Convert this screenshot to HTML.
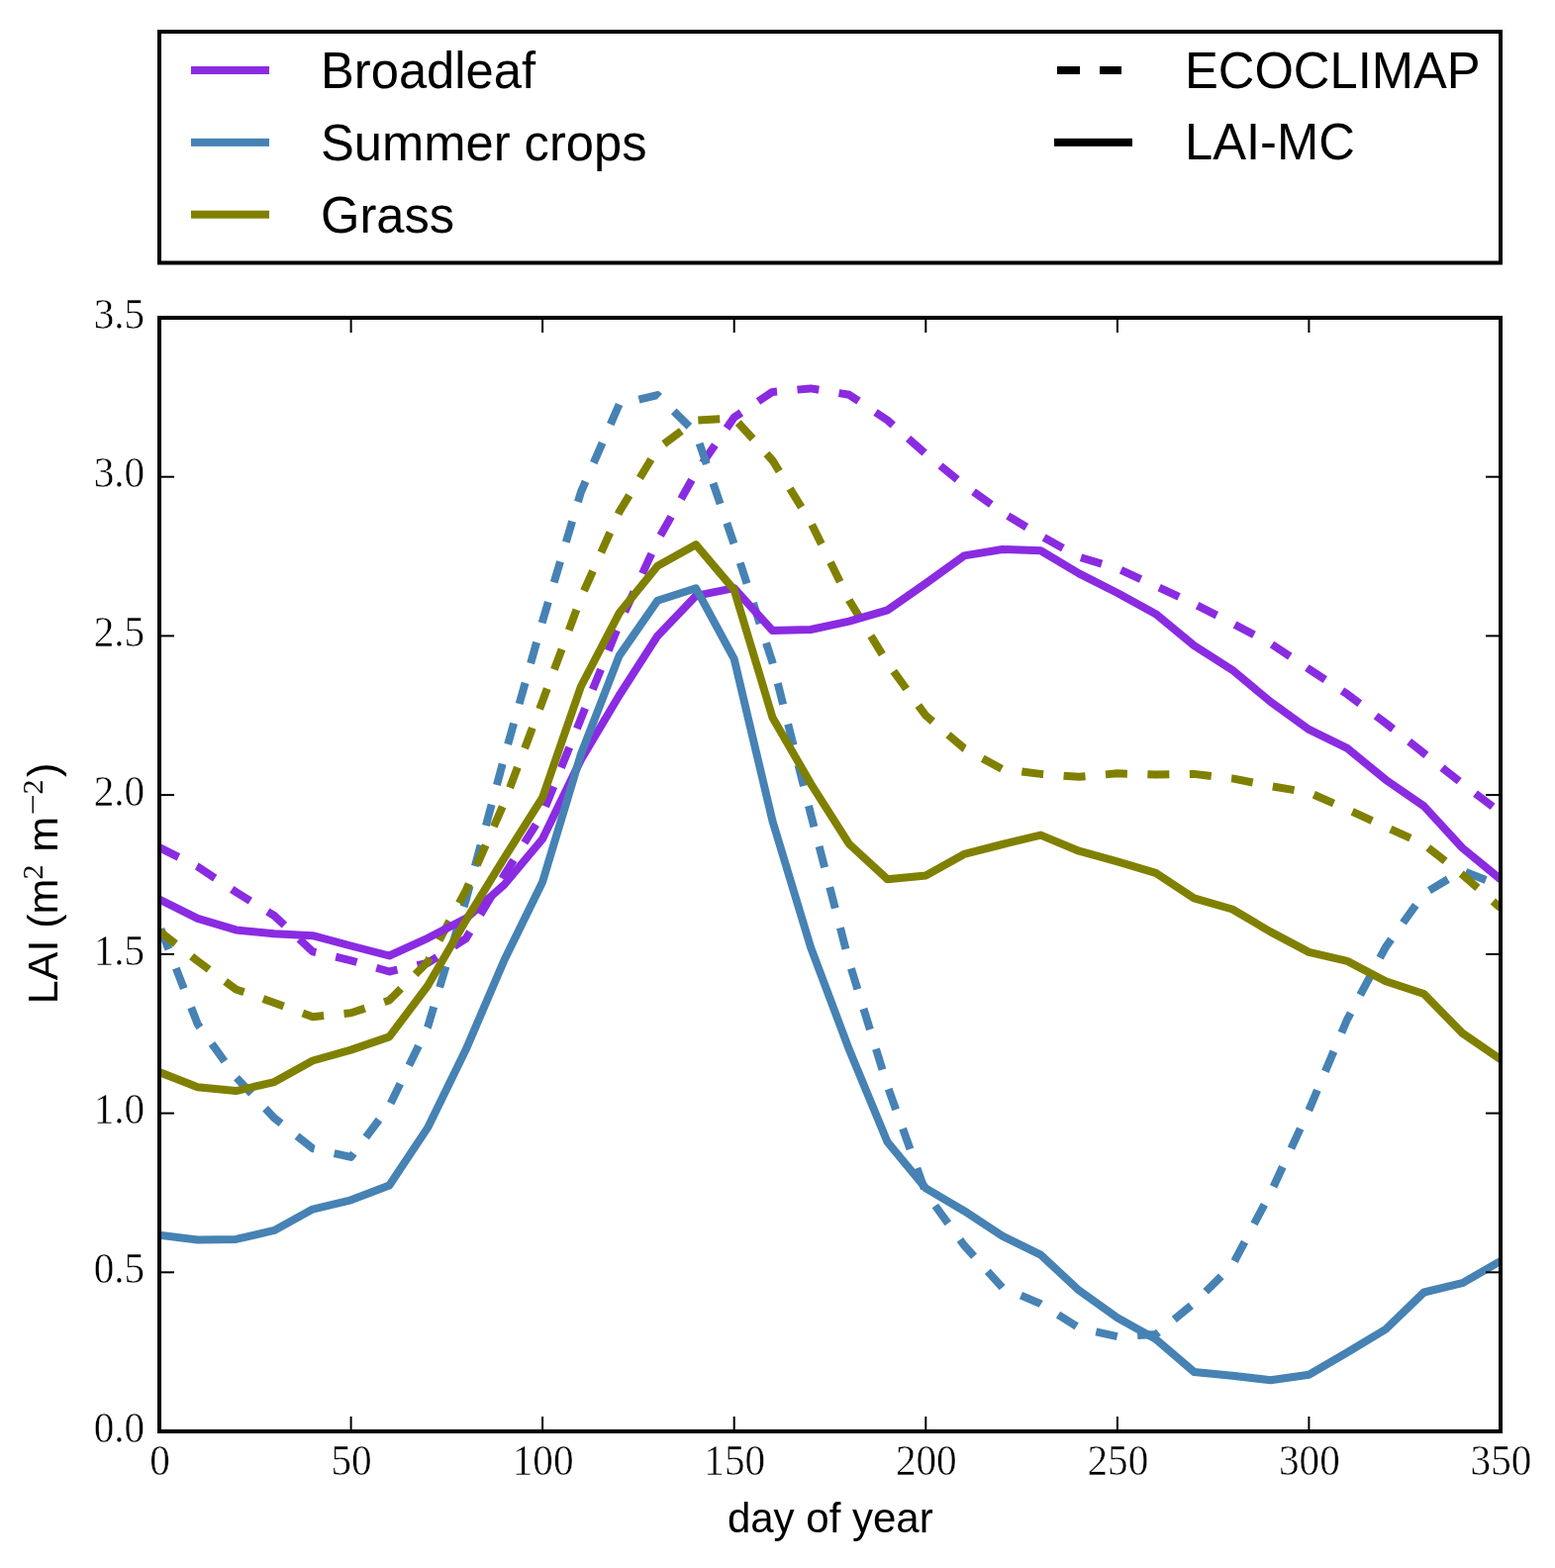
<!DOCTYPE html>
<html><head><meta charset="utf-8"><title>LAI</title>
<style>
html,body{margin:0;padding:0;background:#fff;}
body{width:1571px;height:1584px;overflow:hidden;}
svg{display:block;}
</style></head><body>
<svg width="1571" height="1584" viewBox="0 0 1571 1584">
<rect x="0" y="0" width="1571" height="1584" fill="#fff"/>
<defs><clipPath id="ax"><rect x="161" y="321" width="1355" height="1125"/></clipPath></defs>
<g clip-path="url(#ax)">
<path d="M161.0,856.2 L199.7,875.5 L238.4,901.2 L277.1,925.0 L315.9,961.3 L354.6,970.3 L393.3,981.5 L432.0,972.9 L470.7,948.1 L509.4,884.1 L548.1,822.4 L586.9,726.0 L625.6,630.2 L664.3,546.3 L703.0,477.5 L741.7,421.6 L780.4,395.9 L819.1,392.4 L857.9,398.8 L896.6,424.5 L935.3,458.6 L974.0,489.8 L1012.7,517.7 L1051.4,541.2 L1090.1,562.7 L1128.9,574.3 L1167.6,592.0 L1206.3,610.0 L1245.0,629.6 L1283.7,650.1 L1322.4,675.9 L1361.1,701.2 L1399.9,730.5 L1438.6,761.0 L1477.3,791.6 L1516.0,820.8" fill="none" stroke="#8a2be2" stroke-width="8" stroke-linejoin="round" stroke-linecap="butt" stroke-dasharray="22 20.5" stroke-dashoffset="0.3"/>
<path d="M161.0,934.9 L199.7,1034.6 L238.4,1088.2 L277.1,1129.4 L315.9,1160.2 L354.6,1168.9 L393.3,1117.5 L432.0,1037.8 L470.7,909.2 L509.4,765.2 L548.1,627.6 L586.9,497.1 L625.6,408.4 L664.3,399.1 L703.0,437.4 L741.7,549.9 L780.4,669.1 L819.1,822.4 L857.9,971.9 L896.6,1097.2 L935.3,1204.9 L974.0,1258.0 L1012.7,1300.7 L1051.4,1317.1 L1090.1,1341.5 L1128.9,1350.2 L1167.6,1348.0 L1206.3,1316.5 L1245.0,1278.2 L1283.7,1204.9 L1322.4,1121.4 L1361.1,1029.8 L1399.9,956.8 L1438.6,902.8 L1477.3,879.6 L1516.0,894.8" fill="none" stroke="#4682b4" stroke-width="8" stroke-linejoin="round" stroke-linecap="butt" stroke-dasharray="22 20.5" stroke-dashoffset="38.6"/>
<path d="M161.0,940.7 L199.7,970.9 L238.4,999.5 L277.1,1013.0 L315.9,1027.2 L354.6,1023.3 L393.3,1010.5 L432.0,971.9 L470.7,899.6 L509.4,810.9 L548.1,708.3 L586.9,603.9 L625.6,517.1 L664.3,453.4 L703.0,424.5 L741.7,422.6 L780.4,465.0 L819.1,527.7 L857.9,606.4 L896.6,669.8 L935.3,722.8 L974.0,755.9 L1012.7,777.1 L1051.4,781.9 L1090.1,784.8 L1128.9,781.3 L1167.6,782.6 L1206.3,781.9 L1245.0,786.4 L1283.7,794.1 L1322.4,800.6 L1361.1,817.6 L1399.9,835.3 L1438.6,853.0 L1477.3,883.5 L1516.0,917.2" fill="none" stroke="#808000" stroke-width="8" stroke-linejoin="round" stroke-linecap="butt" stroke-dasharray="22 20.5" stroke-dashoffset="1.2"/>
<path d="M161.0,908.6 L199.7,927.9 L238.4,939.4 L277.1,943.3 L315.9,945.2 L354.6,955.5 L393.3,965.5 L432.0,947.8 L470.7,927.9 L509.4,893.8 L548.1,847.5 L586.9,767.5 L625.6,702.5 L664.3,642.4 L703.0,601.9 L741.7,594.2 L780.4,637.0 L819.1,636.0 L857.9,627.6 L896.6,616.4 L935.3,589.4 L974.0,561.4 L1012.7,555.0 L1051.4,556.3 L1090.1,579.4 L1128.9,599.0 L1167.6,620.2 L1206.3,652.1 L1245.0,676.8 L1283.7,709.0 L1322.4,736.9 L1361.1,755.9 L1399.9,787.7 L1438.6,814.4 L1477.3,856.5 L1516.0,888.3" fill="none" stroke="#8a2be2" stroke-width="8" stroke-linejoin="round" stroke-linecap="butt"/>
<path d="M161.0,1247.7 L199.7,1252.5 L238.4,1251.9 L277.1,1242.9 L315.9,1221.6 L354.6,1212.3 L393.3,1197.5 L432.0,1139.4 L470.7,1060.3 L509.4,970.0 L548.1,890.9 L586.9,762.0 L625.6,662.4 L664.3,606.7 L703.0,594.2 L741.7,665.6 L780.4,829.2 L819.1,957.1 L857.9,1060.3 L896.6,1153.8 L935.3,1200.4 L974.0,1223.2 L1012.7,1248.6 L1051.4,1267.6 L1090.1,1303.6 L1128.9,1331.2 L1167.6,1352.8 L1206.3,1385.9 L1245.0,1389.8 L1283.7,1394.2 L1322.4,1388.8 L1361.1,1366.3 L1399.9,1342.8 L1438.6,1305.5 L1477.3,1296.2 L1516.0,1274.0" fill="none" stroke="#4682b4" stroke-width="8" stroke-linejoin="round" stroke-linecap="butt"/>
<path d="M161.0,1083.1 L199.7,1098.2 L238.4,1102.1 L277.1,1093.1 L315.9,1071.5 L354.6,1060.6 L393.3,1047.4 L432.0,996.0 L470.7,929.8 L509.4,866.8 L548.1,805.7 L586.9,693.5 L625.6,619.3 L664.3,571.7 L703.0,550.2 L741.7,595.8 L780.4,724.7 L819.1,791.6 L857.9,852.6 L896.6,888.3 L935.3,884.5 L974.0,862.9 L1012.7,853.0 L1051.4,843.6 L1090.1,859.7 L1128.9,870.3 L1167.6,881.9 L1206.3,907.3 L1245.0,918.5 L1283.7,941.4 L1322.4,961.9 L1361.1,970.9 L1399.9,991.2 L1438.6,1004.0 L1477.3,1043.6 L1516.0,1070.2" fill="none" stroke="#808000" stroke-width="8" stroke-linejoin="round" stroke-linecap="butt"/>
</g>
<g stroke="#000" stroke-width="2">
<line x1="161.0" y1="1446.0" x2="161.0" y2="1431.0"/>
<line x1="161.0" y1="321.0" x2="161.0" y2="336.0"/>
<line x1="354.6" y1="1446.0" x2="354.6" y2="1431.0"/>
<line x1="354.6" y1="321.0" x2="354.6" y2="336.0"/>
<line x1="548.1" y1="1446.0" x2="548.1" y2="1431.0"/>
<line x1="548.1" y1="321.0" x2="548.1" y2="336.0"/>
<line x1="741.7" y1="1446.0" x2="741.7" y2="1431.0"/>
<line x1="741.7" y1="321.0" x2="741.7" y2="336.0"/>
<line x1="935.3" y1="1446.0" x2="935.3" y2="1431.0"/>
<line x1="935.3" y1="321.0" x2="935.3" y2="336.0"/>
<line x1="1128.9" y1="1446.0" x2="1128.9" y2="1431.0"/>
<line x1="1128.9" y1="321.0" x2="1128.9" y2="336.0"/>
<line x1="1322.4" y1="1446.0" x2="1322.4" y2="1431.0"/>
<line x1="1322.4" y1="321.0" x2="1322.4" y2="336.0"/>
<line x1="1516.0" y1="1446.0" x2="1516.0" y2="1431.0"/>
<line x1="1516.0" y1="321.0" x2="1516.0" y2="336.0"/>
<line x1="161.0" y1="1446.0" x2="176.0" y2="1446.0"/>
<line x1="1516.0" y1="1446.0" x2="1501.0" y2="1446.0"/>
<line x1="161.0" y1="1285.3" x2="176.0" y2="1285.3"/>
<line x1="1516.0" y1="1285.3" x2="1501.0" y2="1285.3"/>
<line x1="161.0" y1="1124.6" x2="176.0" y2="1124.6"/>
<line x1="1516.0" y1="1124.6" x2="1501.0" y2="1124.6"/>
<line x1="161.0" y1="963.9" x2="176.0" y2="963.9"/>
<line x1="1516.0" y1="963.9" x2="1501.0" y2="963.9"/>
<line x1="161.0" y1="803.1" x2="176.0" y2="803.1"/>
<line x1="1516.0" y1="803.1" x2="1501.0" y2="803.1"/>
<line x1="161.0" y1="642.4" x2="176.0" y2="642.4"/>
<line x1="1516.0" y1="642.4" x2="1501.0" y2="642.4"/>
<line x1="161.0" y1="481.7" x2="176.0" y2="481.7"/>
<line x1="1516.0" y1="481.7" x2="1501.0" y2="481.7"/>
<line x1="161.0" y1="321.0" x2="176.0" y2="321.0"/>
<line x1="1516.0" y1="321.0" x2="1501.0" y2="321.0"/>
</g>
<rect x="161" y="321" width="1355" height="1125" fill="none" stroke="#000" stroke-width="4"/>
<g style="font-family:'Liberation Serif',serif;font-size:45px" fill="#000" stroke="#fff" stroke-width="0.5">
<text transform="translate(161.5,1490.2) scale(0.916,1)" text-anchor="middle">0</text>
<text transform="translate(355.1,1490.2) scale(0.916,1)" text-anchor="middle">50</text>
<text transform="translate(548.6,1490.2) scale(0.916,1)" text-anchor="middle">100</text>
<text transform="translate(742.2,1490.2) scale(0.916,1)" text-anchor="middle">150</text>
<text transform="translate(935.8,1490.2) scale(0.916,1)" text-anchor="middle">200</text>
<text transform="translate(1129.4,1490.2) scale(0.916,1)" text-anchor="middle">250</text>
<text transform="translate(1322.9,1490.2) scale(0.916,1)" text-anchor="middle">300</text>
<text transform="translate(1516.5,1490.2) scale(0.916,1)" text-anchor="middle">350</text>
<text transform="translate(146.2,1456.6) scale(0.916,1)" text-anchor="end">0.0</text>
<text transform="translate(146.2,1295.9) scale(0.916,1)" text-anchor="end">0.5</text>
<text transform="translate(146.2,1135.2) scale(0.916,1)" text-anchor="end">1.0</text>
<text transform="translate(146.2,974.5) scale(0.916,1)" text-anchor="end">1.5</text>
<text transform="translate(146.2,813.7) scale(0.916,1)" text-anchor="end">2.0</text>
<text transform="translate(146.2,653.0) scale(0.916,1)" text-anchor="end">2.5</text>
<text transform="translate(146.2,492.3) scale(0.916,1)" text-anchor="end">3.0</text>
<text transform="translate(146.2,331.6) scale(0.916,1)" text-anchor="end">3.5</text>
</g>
<g style="font-family:'Liberation Sans',sans-serif;font-size:52px" fill="#000">
<rect x="161" y="32" width="1355" height="233.5" fill="none" stroke="#000" stroke-width="4"/>
<rect x="193" y="67.00" width="79" height="8" fill="#8a2be2"/>
<text transform="translate(324,89.00) scale(0.975,1)">Broadleaf</text>
<rect x="193" y="139.85" width="79" height="8" fill="#4682b4"/>
<text transform="translate(324,161.85) scale(0.975,1)">Summer crops</text>
<rect x="193" y="212.70" width="79" height="8" fill="#808000"/>
<text transform="translate(324,234.70) scale(0.975,1)">Grass</text>
<rect x="1068" y="67.00" width="23" height="8" fill="#000"/>
<rect x="1111" y="67.00" width="22" height="8" fill="#000"/>
<rect x="1065" y="139.85" width="79" height="8" fill="#000"/>
<text transform="translate(1197,89.30) scale(0.975,1)">ECOCLIMAP</text>
<text transform="translate(1197,161.45) scale(0.975,1)">LAI-MC</text>
</g>
<text x="838.8" y="1547.8" text-anchor="middle" style="font-family:'Liberation Sans',sans-serif;font-size:42px">day of year</text>
<g transform="translate(58.2,0) rotate(-90)">
<text x="-1014.2" y="0" style="font-family:'Liberation Sans',sans-serif;font-size:43px">LAI (m</text>
<text x="-888.5" y="-15" style="font-family:'Liberation Serif',serif;font-size:30px">2</text>
<text x="-860.7" y="0" style="font-family:'Liberation Sans',sans-serif;font-size:43px">m</text>
<text transform="translate(-823.3,-15) scale(1.27,1)" style="font-family:'Liberation Serif',serif;font-size:30px">&#8722;</text>
<text x="-802.6" y="-15" style="font-family:'Liberation Serif',serif;font-size:30px">2</text>
<text x="-785" y="0" style="font-family:'Liberation Sans',sans-serif;font-size:43px">)</text>
</g>
</svg>
</body></html>
